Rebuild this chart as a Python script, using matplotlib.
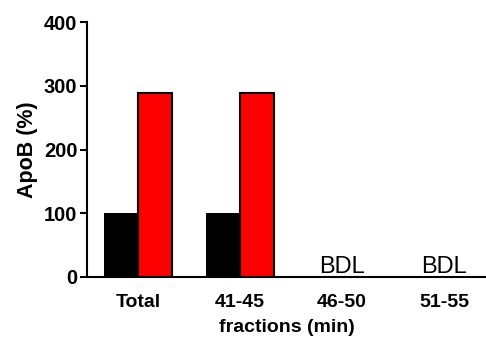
import numpy as np
import matplotlib.pyplot as plt

plt.rcParams['font.family'] = ['Liberation Sans', 'DejaVu Sans']

categories = ['Total', '41-45', '46-50', '51-55']
control = [100, 100, np.nan, np.nan]
treated = [289, 289, np.nan, np.nan]
bdl_labels = ['', '', 'BDL', 'BDL']

fig = plt.figure(figsize=(4.86, 3.4), dpi=100)
ax = fig.add_axes([87 / 486, 1 - 277 / 340, (486 - 87) / 486, 255 / 340])

x = np.arange(len(categories))
w = 0.33
ax.bar(x - w / 2, control, width=w, color='black', edgecolor='black', linewidth=0)
ax.bar(x + w / 2, treated, width=w, color='#ff0000', edgecolor='black', linewidth=1.5)

for xi, lab in zip(x, bdl_labels):
    if lab:
        ax.text(xi, 6, lab, ha='center', va='baseline', fontsize=17)

ax.set_xlim(-0.5, 3.41)
ax.set_ylim(0, 400)
ax.set_yticks([0, 100, 200, 300, 400])
ax.set_xticks(x)
ax.set_xticklabels(categories, fontweight='bold', fontsize=14)
ax.tick_params(axis='x', length=0, pad=12)
ax.tick_params(axis='y', length=5, width=1.5, labelsize=14.5, pad=2)
for lab in ax.get_yticklabels():
    lab.set_fontweight('bold')

ax.spines['top'].set_visible(False)
ax.spines['right'].set_visible(False)
ax.spines['left'].set_linewidth(1.5)
ax.spines['bottom'].set_linewidth(1.5)

ax.set_ylabel('ApoB (%)', fontweight='bold', fontsize=15.5, labelpad=4)
ax.set_xlabel('fractions (min)', fontweight='bold', fontsize=14, labelpad=6)

fig.savefig('out.png', dpi=100)
